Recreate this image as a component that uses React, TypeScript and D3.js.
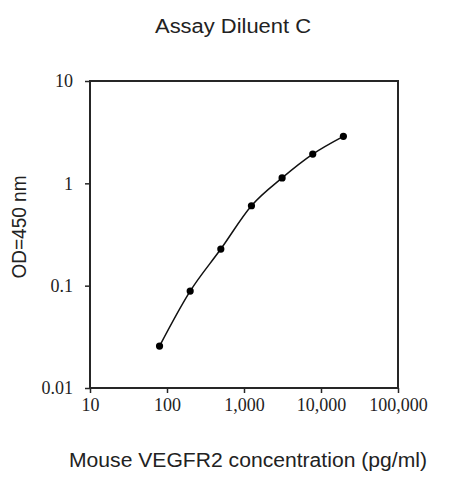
import React, { useEffect, useRef } from 'react';
import * as d3 from 'd3';

// standard curve readings (2.5-fold dilution series)
const concentrations = [80, 200, 500, 1250, 3125, 7813, 19531];
const odValues = [0.0257, 0.0885, 0.228, 0.604, 1.13, 1.93, 2.88];

const xTicks = [10, 100, 1000, 10000, 100000];
const yTicks = [0.01, 0.1, 1, 10];
const yTickLabels = ['0.01', '0.1', '1', '10'];

const title = 'Assay Diluent C';
const xLabel = 'Mouse VEGFR2 concentration (pg/ml)';
const yLabel = 'OD=450 nm';

const App: React.FC = () => {
  const svgRef = useRef<SVGSVGElement>(null);
  const width = 452;
  const height = 479;

  useEffect(() => {
    if (!svgRef.current) return;
    const svg = d3.select(svgRef.current);
    svg.selectAll('*').remove();

    const margin = { top: 81, right: 54, bottom: 91, left: 90 };
    const innerWidth = width - margin.left - margin.right;
    const innerHeight = height - margin.top - margin.bottom;
    const ink = '#262626';
    const sans = '"Liberation Sans", Arial, sans-serif';
    const serif = '"Liberation Serif", "Times New Roman", serif';

    const xScale = d3.scaleLog().domain([10, 100000]).range([0, innerWidth]);
    const yScale = d3.scaleLog().domain([0.01, 10]).range([innerHeight, 0]);

    svg.append('rect')
      .attr('width', width)
      .attr('height', height)
      .attr('fill', '#ffffff');

    const g = svg.append('g')
      .attr('transform', `translate(${margin.left},${margin.top})`);

    // plot frame
    g.append('rect')
      .attr('width', innerWidth)
      .attr('height', innerHeight)
      .attr('fill', 'none')
      .attr('stroke', ink)
      .attr('stroke-width', 2);

    // x axis
    const xAxis = g.append('g')
      .attr('transform', `translate(0,${innerHeight})`)
      .call(
        d3.axisBottom(xScale)
          .tickValues(xTicks)
          .tickSize(5)
          .tickPadding(5)
          .tickFormat(d => d3.format(',')(d as number))
      );
    xAxis.select('.domain').remove();
    xAxis.selectAll('line').attr('stroke', ink).attr('stroke-width', 1.5);
    xAxis.selectAll('text')
      .attr('fill', '#222')
      .style('font-family', serif)
      .style('font-size', '18px');

    // y axis
    const yAxis = g.append('g')
      .call(
        d3.axisLeft(yScale)
          .tickValues(yTicks)
          .tickSize(5)
          .tickPadding(12)
          .tickFormat((d, i) => yTickLabels[i])
      );
    yAxis.select('.domain').remove();
    yAxis.selectAll('line').attr('stroke', ink).attr('stroke-width', 1.5);
    yAxis.selectAll('text')
      .attr('fill', '#222')
      .style('font-family', serif)
      .style('font-size', '18px');

    // curve
    const points = concentrations.map((c, i) => [c, odValues[i]] as [number, number]);
    const line = d3.line<[number, number]>()
      .x(d => xScale(d[0]))
      .y(d => yScale(d[1]))
      .curve(d3.curveMonotoneX);

    g.append('path')
      .datum(points)
      .attr('d', line)
      .attr('fill', 'none')
      .attr('stroke', '#111')
      .attr('stroke-width', 1.5);

    g.selectAll('.pt')
      .data(points)
      .enter().append('circle')
      .attr('class', 'pt')
      .attr('cx', d => xScale(d[0]))
      .attr('cy', d => yScale(d[1]))
      .attr('r', 3.6)
      .attr('fill', '#000');

    // title and axis labels
    svg.append('text')
      .attr('x', 233)
      .attr('y', 33)
      .attr('text-anchor', 'middle')
      .attr('textLength', 156)
      .attr('lengthAdjust', 'spacingAndGlyphs')
      .style('font-family', sans)
      .style('font-size', '20px')
      .attr('fill', '#222')
      .text(title);

    svg.append('text')
      .attr('x', 248)
      .attr('y', 467)
      .attr('text-anchor', 'middle')
      .attr('textLength', 358)
      .attr('lengthAdjust', 'spacingAndGlyphs')
      .style('font-family', sans)
      .style('font-size', '20px')
      .attr('fill', '#222')
      .text(xLabel);

    svg.append('text')
      .attr('transform', `translate(26,227) rotate(-90)`)
      .attr('text-anchor', 'middle')
      .attr('textLength', 103)
      .attr('lengthAdjust', 'spacingAndGlyphs')
      .style('font-family', sans)
      .style('font-size', '20px')
      .attr('fill', '#222')
      .text(yLabel);
  }, []);

  return (
    <div style={{ position: 'absolute', left: 0, top: 0 }}>
      <svg ref={svgRef} width={width} height={height} style={{ display: 'block' }} />
    </div>
  );
};

export default App;
